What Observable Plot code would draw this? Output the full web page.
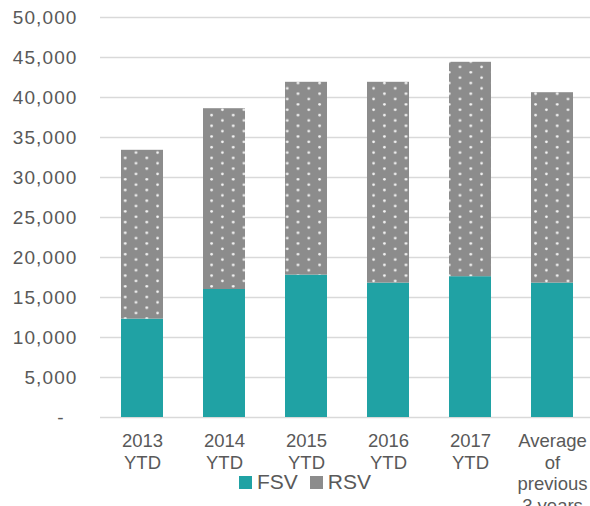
<!DOCTYPE html>
<html>
<head>
<meta charset="utf-8">
<script src="https://cdn.jsdelivr.net/npm/d3@7"></script>
<script src="https://cdn.jsdelivr.net/npm/@observablehq/plot@0.6"></script>
<style>
  html, body { margin: 0; padding: 0; background: #fff; overflow: hidden; }
  #wrap { position: relative; width: 590px; height: 506px; }
  #legend { position: absolute; left: 239px; top: 470px; display: flex; align-items: center;
    font-family: "Liberation Sans", Arial, sans-serif; font-size: 21px; color: #595959; }
  #legend .sw { width: 13px; height: 13px; display: inline-block; margin-right: 5px; }
  #legend .item { display: flex; align-items: center; margin-right: 12px; }
  g[aria-label="y-axis tick label"] text { letter-spacing: 1.1px; }
</style>
</head>
<body>
<div id="wrap"></div>
<script>
const categories = ["2013\nYTD", "2014\nYTD", "2015\nYTD", "2016\nYTD", "2017\nYTD", "Average\nof\nprevious\n3 years"];
const series = ["FSV", "RSV"];
const fsv = [12300, 16000, 17800, 16800, 17600, 16800];
const rsv = [21100, 22600, 24100, 25100, 26800, 23800];
const yTicks = [0, 5000, 10000, 15000, 20000, 25000, 30000, 35000, 40000, 45000, 50000];
const colors = ["#20a2a4", "url(#rsvdots)"];

const rows = [];
categories.forEach((c, i) => {
  rows.push({cat: c, series: "FSV", value: fsv[i]});
  rows.push({cat: c, series: "RSV", value: rsv[i]});
});

const fmt = d => d === 0 ? "-\u00a0\u00a0" : d3.format(",")(d);

const chart = Plot.plot({
  width: 590,
  height: 506,
  marginTop: 17,
  marginBottom: 89,
  marginLeft: 100,
  marginRight: 0,
  style: {fontFamily: "'Liberation Sans', Arial, sans-serif", color: "#595959", background: "#fff"},
  x: {domain: categories, range: [100.5, 594.3], paddingInner: 0.49, paddingOuter: 0.245, label: null},
  y: {domain: [0, 50000], label: null},
  color: {domain: series, range: colors},
  marks: [
    Plot.gridY(yTicks, {stroke: "#d9d9d9", strokeOpacity: 1, strokeWidth: 1.6}),
    Plot.barY(rows, {x: "cat", y: "value", fill: "series", order: series}),
    Plot.axisY(yTicks, {tickSize: 0, tickPadding: 23, tickFormat: fmt, fontSize: 19, fill: "#595959", label: null}),
    Plot.axisX({tickSize: 0, tickPadding: 14, fontSize: 18.5, lineHeight: 1.17, fill: "#595959", label: null, textAnchor: "middle"})
  ]
});

// pattern for RSV
const defs = d3.select(chart).insert("defs", ":first-child");
const pat = defs.append("pattern").attr("id", "rsvdots").attr("patternUnits", "userSpaceOnUse")
  .attr("width", 21.6).attr("height", 10.7).attr("x", 1).attr("y", 0);
pat.append("rect").attr("width", 21.6).attr("height", 10.7).attr("fill", "#8c8c8c");
pat.append("circle").attr("cx", 5.4).attr("cy", 2.7).attr("r", 1.35).attr("fill", "#ffffff").attr("fill-opacity", 0.92);
pat.append("circle").attr("cx", 16.2).attr("cy", 8.05).attr("r", 1.35).attr("fill", "#ffffff").attr("fill-opacity", 0.92);

const wrap = document.getElementById("wrap");
wrap.appendChild(chart);

const legend = document.createElement("div");
legend.id = "legend";
series.forEach((s, i) => {
  const item = document.createElement("span");
  item.className = "item";
  const sw = document.createElement("span");
  sw.className = "sw";
  sw.style.background = i === 0 ? colors[0] : "#8c8c8c";
  item.appendChild(sw);
  item.appendChild(document.createTextNode(s));
  legend.appendChild(item);
});
wrap.appendChild(legend);
</script>
</body>
</html>
